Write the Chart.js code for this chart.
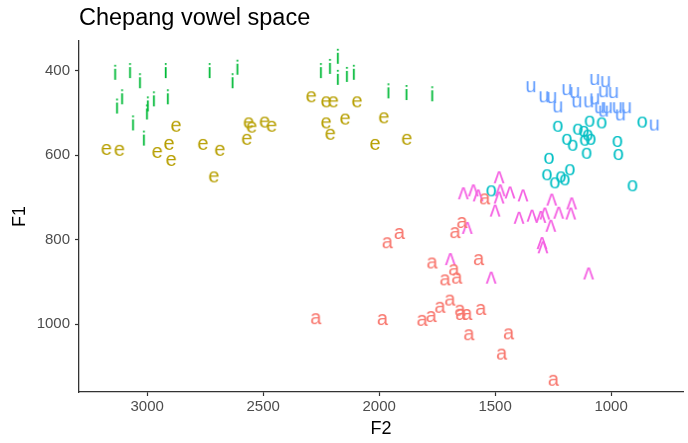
<!DOCTYPE html>
<html>
<head>
<meta charset="utf-8">
<script src="https://cdn.jsdelivr.net/npm/chart.js@4"></script>
<style>
  html, body { margin: 0; padding: 0; background: #fff; }
</style>
</head>
<body>
<canvas id="chart" width="688" height="443"></canvas>
<script>
// tick labels
const xTicks = [3000, 2500, 2000, 1500, 1000];
const yTicks = [400, 600, 800, 1000];

// vowels and their colours
const vowels = ['a', 'e', 'i', 'o', 'u', 'ʌ'];
const vowelColors = ['#F8766D', '#B79F00', '#00BA38', '#00BFC4', '#619CFF', '#F564E3'];

// [F2, F1] per token
const aPoints = [[2271, 986], [1984, 988], [1813, 990], [1774, 981], [1736, 959], [1693, 942], [1650, 966], [1646, 976],
  [1620, 976], [1560, 964], [1611, 1024], [1440, 1022], [1470, 1070], [1247, 1132], [1963, 806], [1911, 784],
  [1671, 782], [1641, 758], [1543, 702], [1770, 854], [1676, 870], [1714, 894], [1663, 890], [1569, 846]];
const ePoints = [[3176, 585], [3120, 587], [2876, 530], [2957, 592], [2906, 573], [2897, 611], [2760, 573], [2687, 587],
  [2713, 650], [2563, 522], [2550, 532], [2571, 561], [2494, 520], [2464, 530], [2293, 460], [2229, 472],
  [2198, 472], [2096, 472], [2229, 522], [2147, 513], [1980, 510], [2211, 549], [2018, 573], [1881, 561]];
const iPoints = [[3137, 402], [3073, 398], [3030, 422], [2919, 398], [3107, 460], [3129, 482], [3060, 522], [2996, 477],
  [3000, 496], [2970, 465], [2910, 460], [3013, 558], [2730, 398], [2610, 390], [2631, 422], [2250, 398],
  [2211, 388], [2177, 364], [2177, 414], [2138, 407], [2108, 402], [1959, 446], [1881, 450], [1770, 453]];
const oPoints = [[1230, 530], [1144, 537], [1093, 518], [1041, 522], [1118, 542], [1114, 563], [1088, 561], [1101, 551],
  [1191, 561], [1166, 575], [1106, 594], [973, 566], [969, 597], [866, 520], [1268, 606], [1277, 645],
  [1217, 650], [1243, 664], [1200, 657], [1178, 633], [908, 671], [1517, 683]];
const uPoints = [[1346, 436], [1290, 460], [1256, 462], [1230, 484], [1191, 443], [1157, 450], [1148, 472], [1097, 472],
  [1071, 419], [1024, 424], [1033, 448], [990, 450], [1071, 465], [1050, 486], [1033, 494], [1016, 486],
  [973, 486], [960, 503], [934, 486], [814, 527]];
const vPoints = [[1483, 652], [1637, 690], [1594, 683], [1573, 695], [1478, 683], [1483, 700], [1436, 688], [1380, 695],
  [1500, 731], [1256, 705], [1170, 714], [1174, 738], [1397, 748], [1341, 743], [1303, 746], [1286, 738],
  [1226, 736], [1260, 767], [1620, 772], [1298, 808], [1294, 818], [1693, 846], [1517, 890], [1097, 880]];

const allPoints = [aPoints, ePoints, iPoints, oPoints, uPoints, vPoints];
const fontFamily = '"Liberation Sans", Arial, Helvetica, sans-serif';

// draw a vowel symbol on a small canvas, ink centred, to use as point style
function makeGlyph(ch, color) {
    const c = document.createElement('canvas');
    c.width = 30;
    c.height = 32;
    const g = c.getContext('2d');
    g.font = (ch === 'ʌ' ? '22px ' : '20px ') + fontFamily;
    g.fillStyle = color;
    const m = g.measureText(ch);
    const x = c.width / 2 - (m.actualBoundingBoxRight - m.actualBoundingBoxLeft) / 2;
    const y = c.height / 2 + (m.actualBoundingBoxAscent - m.actualBoundingBoxDescent) / 2;
    g.fillText(ch, x, y);
    return c;
}

const datasets = vowels.map((v, i) => ({
    label: v,
    data: allPoints[i].map(p => ({ x: p[0], y: p[1] })),
    pointStyle: makeGlyph(v, vowelColors[i]),
    showLine: false
}));

const axisColor = '#333333';
const tickFont = { family: fontFamily, size: 15 };

new Chart(document.getElementById('chart'), {
    type: 'scatter',
    data: { datasets: datasets },
    options: {
        responsive: false,
        animation: false,
        layout: { padding: { top: 0, right: 4, bottom: 0, left: 0 } },
        plugins: {
            legend: { display: false },
            tooltip: { enabled: false },
            title: {
                display: true,
                text: 'Chepang vowel space',
                align: 'start',
                fullSize: false,
                color: '#000',
                font: { family: fontFamily, size: 23.5, weight: 'normal' },
                padding: { top: 4, bottom: 8.8 }
            }
        },
        scales: {
            x: {
                type: 'linear',
                reverse: true,
                min: 690,
                max: 3294,
                afterBuildTicks: s => { s.ticks = xTicks.map(v => ({ value: v })); },
                afterFit: s => { s.height = 51; },
                ticks: { color: '#4D4D4D', font: tickFont, padding: 2, maxRotation: 0, autoSkip: false, callback: v => String(v) },
                grid: { drawOnChartArea: false, tickLength: 4, tickColor: axisColor, tickWidth: 1.2 },
                border: { color: axisColor, width: 1.3 },
                title: { display: true, text: 'F2', color: '#000', font: { family: fontFamily, size: 18 }, padding: { top: 0, bottom: 3 } }
            },
            y: {
                type: 'linear',
                reverse: true,
                min: 329,
                max: 1161,
                afterBuildTicks: s => { s.ticks = yTicks.map(v => ({ value: v })); },
                afterFit: s => { s.width = 79; },
                ticks: { color: '#4D4D4D', font: tickFont, padding: 5, autoSkip: false, callback: v => String(v) },
                grid: { drawOnChartArea: false, tickLength: 4, tickColor: axisColor, tickWidth: 1.2 },
                border: { color: axisColor, width: 1.3 },
                title: { display: true, text: 'F1', color: '#000', font: { family: fontFamily, size: 18 }, padding: { top: 9, bottom: 0 } }
            }
        }
    }
});
</script>
</body>
</html>
